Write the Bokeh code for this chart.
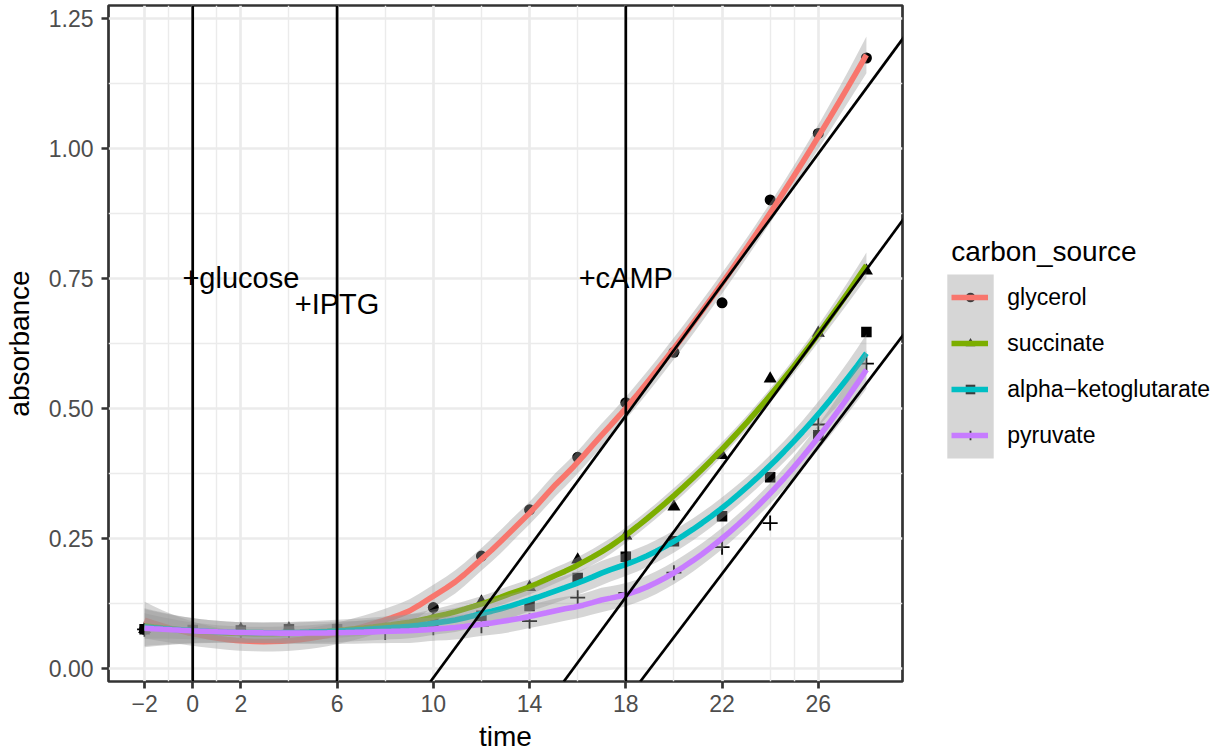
import numpy as np
from bokeh.plotting import figure
from bokeh.layouts import row
from bokeh.models import (Range1d, FixedTicker, Span, Slope, Legend, LegendItem,
                          NumeralTickFormatter)
from bokeh.core.properties import value
from bokeh.embed import file_html
from bokeh.resources import INLINE

# ---------------- data ----------------
time = [-2, 0, 2, 4, 6, 8, 10, 12, 14, 16, 18, 20, 22, 24, 26, 28]
glycerol = [0.075, 0.073, 0.072, 0.074, 0.075, 0.078, 0.117, 0.216, 0.305,
            0.406, 0.511, 0.608, 0.703, 0.901, 1.029, 1.174]
succinate = [0.075, 0.074, 0.075, 0.076, 0.075, 0.077, 0.095, 0.128, 0.156,
             0.209, 0.255, 0.311, 0.410, 0.557, 0.645, 0.765]
alpha_ketoglutarate = [0.075, 0.074, 0.073, 0.075, 0.075, 0.076, 0.090, 0.101,
                       0.120, 0.174, 0.2145, 0.2445, 0.2925, 0.3675, 0.4485, 0.647]
pyruvate = [0.075, 0.072, 0.071, 0.072, 0.073, 0.069, 0.078, 0.082, 0.091,
            0.136, 0.145, 0.184, 0.233, 0.2795, 0.469, 0.586]

series_names = ["glycerol", "succinate", "alpha\u2212ketoglutarate", "pyruvate"]
series_values = [glycerol, succinate, alpha_ketoglutarate, pyruvate]
series_colors = ["#F8766D", "#7CAE00", "#00BFC4", "#C77CFF"]
series_markers = ["circle", "triangle", "square", "cross"]

event_times = [0, 6, 18]
event_labels = ["+glucose", "+IPTG", "+cAMP"]
label_x = [2, 6, 18]
label_y = [0.75, 0.70, 0.75]

abline_slopes = [0.063, 0.063, 0.061]
abline_intercepts = [-0.648, -0.997, -1.160]

x_breaks = [-2, 0, 2, 6, 10, 14, 18, 22, 26]
x_minor = [-1, 1, 4, 8, 12, 16, 20, 24, 25]
y_breaks = [0, 0.25, 0.5, 0.75, 1.0, 1.25]
y_minor = [0.125, 0.375, 0.625, 0.875, 1.125]


# ---------------- loess (span 0.75, degree 2), as geom_smooth ----------------
def loess_rows(x, x0s, span=0.75):
    n = len(x)
    q = int(np.floor(n * span))
    rows = []
    for x0 in x0s:
        d = np.abs(x - x0)
        h = np.sort(d)[q - 1]
        u = np.clip(d / h, 0, 1)
        w = (1 - u ** 3) ** 3
        X = np.vstack([np.ones(n), x - x0, (x - x0) ** 2]).T
        WX = X * w[:, None]
        A = X.T @ WX
        rows.append(np.linalg.solve(A, WX.T)[0])
    return np.array(rows)


def t_quantile_975(df):
    # Cornish-Fisher expansion of the Student t 97.5% quantile
    z = 1.959963984540054
    g1 = (z ** 3 + z) / 4
    g2 = (5 * z ** 5 + 16 * z ** 3 + 3 * z) / 96
    g3 = (3 * z ** 7 + 19 * z ** 5 + 17 * z ** 3 - 15 * z) / 384
    g4 = (79 * z ** 9 + 776 * z ** 7 + 1482 * z ** 5 - 1920 * z ** 3 - 945 * z) / 92160
    return z + g1 / df + g2 / df ** 2 + g3 / df ** 3 + g4 / df ** 4


def smooth(xv, yv, npts=80):
    x = np.asarray(xv, float)
    y = np.asarray(yv, float)
    grid = np.linspace(x.min(), x.max(), npts)
    Ld = loess_rows(x, x)
    Lg = loess_rows(x, grid)
    fit = Lg @ y
    res = y - Ld @ y
    M = np.eye(len(x)) - Ld
    MM = M.T @ M
    d1 = np.trace(MM)
    d2 = np.trace(MM @ MM)
    s = np.sqrt(np.sum(res ** 2) / d1)
    se = s * np.sqrt(np.sum(Lg ** 2, axis=1))
    tq = t_quantile_975(d1 ** 2 / d2)
    return grid, fit, fit - tq * se, fit + tq * se


FONT = "Liberation Sans"
W_MAIN, W_LEG, H = 904, 320, 754

# ---------------- main panel ----------------
p = figure(width=W_MAIN, height=H, x_range=Range1d(-3.5, 29.5),
           y_range=Range1d(-0.0253, 1.275), output_backend="svg",
           toolbar_location=None, min_border_left=108, min_border_right=2,
           min_border_top=5, min_border_bottom=70)
p.background_fill_color = "white"
p.border_fill_color = "white"
p.outline_line_color = "#333333"
p.outline_line_width = 2.7

p.xaxis.ticker = FixedTicker(ticks=x_breaks, minor_ticks=x_minor)
p.yaxis.ticker = FixedTicker(ticks=y_breaks, minor_ticks=y_minor)
p.yaxis.formatter = NumeralTickFormatter(format="0.00")
p.xaxis.major_label_overrides = {-2: "\u22122"}

for g in (p.xgrid, p.ygrid):
    g.grid_line_color = "#EBEBEB"
    g.grid_line_width = 2.7
    g.minor_grid_line_color = "#EBEBEB"
    g.minor_grid_line_width = 1.4

for ax in (p.xaxis, p.yaxis):
    ax.axis_line_color = None
    ax.major_tick_line_color = "#333333"
    ax.major_tick_line_width = 2.7
    ax.major_tick_out = 7
    ax.major_tick_in = 0
    ax.minor_tick_line_color = None
    ax.major_label_text_font = FONT
    ax.major_label_text_font_size = "23px"
    ax.major_label_text_color = "#4D4D4D"
    ax.axis_label_text_font = FONT
    ax.axis_label_text_font_size = "28px"
    ax.axis_label_text_font_style = "normal"
    ax.axis_label_text_color = "black"

p.xaxis.axis_label = "time"
p.yaxis.axis_label = "absorbance"
p.xaxis.major_label_standoff = 6
p.xaxis.axis_label_standoff = 6
p.yaxis.major_label_standoff = 8
p.yaxis.axis_label_standoff = 11

# points
sizes = {"circle": 11, "triangle": 13, "square": 10.5, "cross": 15}
for vals, mk in zip(series_values, series_markers):
    if mk == "cross":
        p.scatter(time, vals, marker=mk, size=sizes[mk], line_color="black",
                  line_width=1.8)
    else:
        p.scatter(time, vals, marker=mk, size=sizes[mk], fill_color="black",
                  line_color=None)

# smooths: ribbon then line, per group
for vals, col in zip(series_values, series_colors):
    gx, fit, lo, hi = smooth(time, vals)
    p.varea(x=gx, y1=lo, y2=hi, fill_color="#999999", fill_alpha=0.4)
    p.line(gx, fit, line_color=col, line_width=5.6)

for t in event_times:
    p.add_layout(Span(location=t, dimension="height", line_color="black",
                      line_width=2.7))
for s_, b_ in zip(abline_slopes, abline_intercepts):
    p.add_layout(Slope(gradient=s_, y_intercept=b_, line_color="black",
                       line_width=2.7))

p.text(x=label_x, y=label_y, text=event_labels, text_font=value(FONT),
       text_font_size="29px", text_align="center", text_baseline="middle",
       text_color="black")

# ---------------- legend panel ----------------
q = figure(width=W_LEG, height=H, x_range=Range1d(0, 1), y_range=Range1d(0, 1),
           output_backend="svg", toolbar_location=None, x_axis_location=None,
           y_axis_location=None, min_border=0)
q.outline_line_color = None
q.grid.visible = False
q.background_fill_color = "white"
q.border_fill_color = "white"

nan = [float("nan")]
key_points = []
for mk in series_markers:
    if mk == "cross":
        key_points.append(q.scatter(nan, nan, marker=mk, line_color="black", line_width=1.8))
    else:
        key_points.append(q.scatter(nan, nan, marker=mk, fill_color="black", line_color=None))
key_grey = q.varea(x=nan, y1=nan, y2=nan, fill_color="#999999", fill_alpha=0.4)
key_lines = [q.line(nan, nan, line_color=c, line_width=5.6) for c in series_colors]

common = dict(padding=0, margin=0, border_line_color=None,
              background_fill_alpha=0, orientation="vertical")

leg_markers = Legend(items=[LegendItem(label=" ", renderers=[r]) for r in key_points],
                     location=(53.7, 234), glyph_width=24, glyph_height=24,
                     spacing=22, label_text_font_size="1px", label_standoff=0,
                     **common)
leg_grey = Legend(items=[LegendItem(label=" ", renderers=[key_grey])],
                  location=(36.9, 200), glyph_width=58, glyph_height=230,
                  label_text_font_size="1px", label_standoff=0, **common)
leg_main = Legend(items=[LegendItem(label=n, renderers=[r])
                         for n, r in zip(series_names, key_lines)],
                  location=(47.3, 223), glyph_width=37, glyph_height=46,
                  spacing=0, label_standoff=19, label_text_font=FONT,
                  label_text_font_size="23px", label_text_color="black",
                  title="carbon_source", title_text_font=FONT,
                  title_text_font_size="28px", title_text_font_style="normal",
                  title_text_color="black", title_standoff=6, **common)
q.add_layout(leg_markers, "center")
q.add_layout(leg_grey, "center")
q.add_layout(leg_main, "center")

layout = row(p, q, spacing=0)
open("out.html", "w").write(file_html(layout, INLINE))
